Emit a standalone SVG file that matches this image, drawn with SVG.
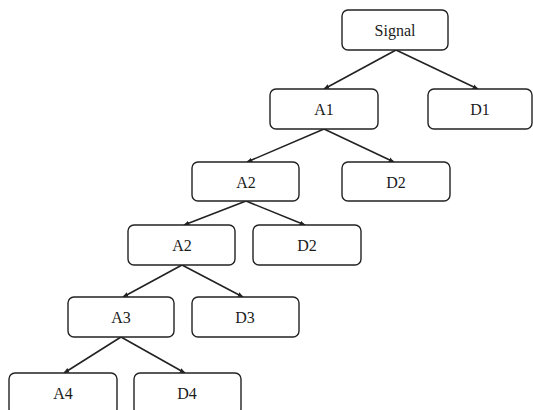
<svg xmlns="http://www.w3.org/2000/svg" width="533" height="410" viewBox="0 0 533 410">
<style>
.box{fill:#fff;stroke:#222;stroke-width:1.4}
.lbl{font-family:"Liberation Serif","Times New Roman",serif;font-size:16px;fill:#1a1a1a;text-anchor:middle}
.edge{stroke:#222;stroke-width:1.6;fill:none;marker-end:url(#ah)}
</style>
<defs>
<marker id="ah" viewBox="0 0 10 10" refX="9" refY="5" markerWidth="6" markerHeight="6" markerUnits="userSpaceOnUse" orient="auto">
<path d="M0,1 L10,5 L0,9 z" fill="#222"/>
</marker>
</defs>
<rect width="533" height="410" fill="#fff"/>
<g id="connectors">
<line class="edge" x1="396" y1="50" x2="324" y2="89"/>
<line class="edge" x1="396" y1="50" x2="478" y2="89"/>
<line class="edge" x1="324" y1="129" x2="247" y2="162"/>
<line class="edge" x1="324" y1="129" x2="394" y2="162"/>
<line class="edge" x1="246" y1="201" x2="184" y2="225"/>
<line class="edge" x1="246" y1="201" x2="305" y2="225"/>
<line class="edge" x1="182" y1="265" x2="123" y2="297"/>
<line class="edge" x1="182" y1="265" x2="243" y2="297"/>
<line class="edge" x1="121" y1="337" x2="64" y2="373"/>
<line class="edge" x1="121" y1="337" x2="185" y2="373"/>
</g>
<g id="signal"><rect class="box" x="342" y="10" width="106" height="40" rx="6"/><text class="lbl" x="395" y="36">Signal</text></g>
<g id="a1"><rect class="box" x="270" y="89" width="108" height="40" rx="6"/><text class="lbl" x="324" y="115">A1</text></g>
<g id="d1"><rect class="box" x="428" y="89" width="104" height="40" rx="6"/><text class="lbl" x="480" y="115">D1</text></g>
<g id="a2a"><rect class="box" x="192" y="162" width="107" height="39" rx="6"/><text class="lbl" x="246" y="188">A2</text></g>
<g id="d2a"><rect class="box" x="342" y="162" width="108" height="39" rx="6"/><text class="lbl" x="396" y="188">D2</text></g>
<g id="a2b"><rect class="box" x="128" y="225" width="107" height="40" rx="6"/><text class="lbl" x="182" y="251">A2</text></g>
<g id="d2b"><rect class="box" x="253" y="225" width="108" height="40" rx="6"/><text class="lbl" x="307" y="251">D2</text></g>
<g id="a3"><rect class="box" x="68" y="297" width="106" height="40" rx="6"/><text class="lbl" x="121" y="323">A3</text></g>
<g id="d3"><rect class="box" x="192" y="297" width="107" height="40" rx="6"/><text class="lbl" x="245" y="323">D3</text></g>
<g id="a4"><rect class="box" x="9" y="373" width="108" height="42" rx="6"/><text class="lbl" x="63" y="399">A4</text></g>
<g id="d4"><rect class="box" x="134" y="373" width="107" height="42" rx="6"/><text class="lbl" x="187" y="399">D4</text></g>
</svg>
